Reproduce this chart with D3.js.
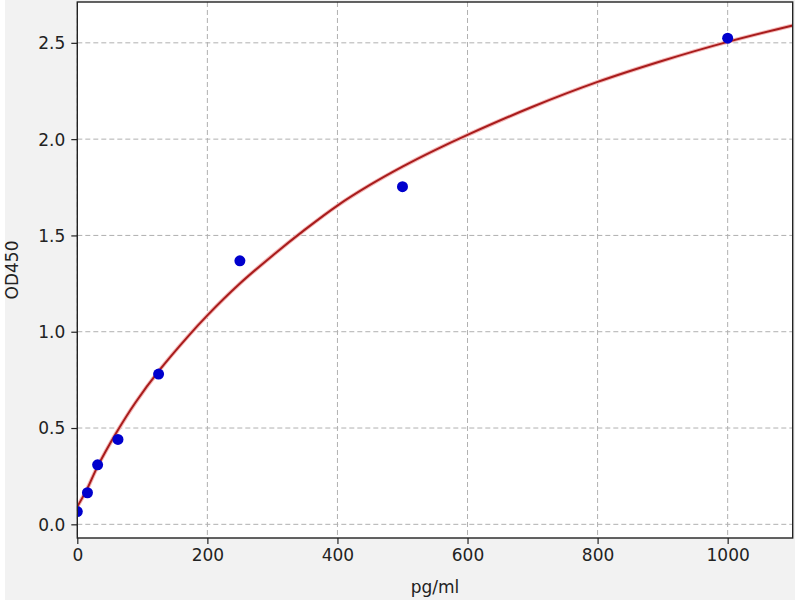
<!DOCTYPE html>
<html>
<head>
<meta charset="utf-8">
<script src="https://cdn.jsdelivr.net/npm/d3@7"></script>
<style>
  html, body { margin: 0; padding: 0; background: #fff; }
  svg text { font-family: "DejaVu Sans", sans-serif; fill: #222; }
</style>
</head>
<body>
<div id="container"></div>
<script>
// standard concentrations (pg/ml) and measured OD450
const conc = [0, 15.6, 31.25, 62.5, 125, 250, 500, 1000];
const od = [0.066, 0.164, 0.309, 0.441, 0.78, 1.368, 1.753, 2.524];

// fitted curve
const fitX = [0, 15, 30, 60, 90, 125, 170, 200, 250, 300, 350, 400, 450, 500, 550, 600, 700, 800, 900, 1000, 1100];
const fitY = [0.092, 0.183, 0.292, 0.475, 0.635, 0.795, 0.975, 1.085, 1.25, 1.395, 1.53, 1.655, 1.762, 1.857, 1.943, 2.022, 2.168, 2.297, 2.407, 2.505, 2.59];

const xTicks = [0, 200, 400, 600, 800, 1000];
const yTicks = [0.0, 0.5, 1.0, 1.5, 2.0, 2.5];

const W = 800, H = 600;
const pLeft = 77.3, pRight = 792.7, pTop = 2, pBottom = 538;

const svg = d3.select('#container').append('svg')
    .attr('width', W)
    .attr('height', H)
    .style('display', 'block');

svg.append('rect').attr('width', W).attr('height', H).attr('fill', '#fff');
svg.append('rect')
    .attr('x', 5).attr('y', 0)
    .attr('width', 790).attr('height', H)
    .attr('fill', '#f2f2f2');

const x = d3.scaleLinear().domain([0, 1100]).range([pLeft, pRight]);
const y = d3.scaleLinear().domain([-0.071, 2.712]).range([pBottom, pTop]);

svg.append('rect')
    .attr('x', pLeft).attr('y', pTop)
    .attr('width', pRight - pLeft).attr('height', pBottom - pTop)
    .attr('fill', '#fff');

svg.append('clipPath').attr('id', 'plot')
  .append('rect')
    .attr('x', pLeft).attr('y', pTop)
    .attr('width', pRight - pLeft).attr('height', pBottom - pTop);

// grid
const grid = svg.append('g')
    .attr('stroke', '#b0b0b0')
    .attr('stroke-width', 1)
    .attr('stroke-dasharray', '5,3');
grid.selectAll('.gx').data(xTicks).join('line')
    .attr('x1', d => x(d)).attr('x2', d => x(d))
    .attr('y1', pTop).attr('y2', pBottom);
grid.selectAll('.gy').data(yTicks).join('line')
    .attr('y1', d => y(d)).attr('y2', d => y(d))
    .attr('x1', pLeft).attr('x2', pRight);

// axes
const xAxis = svg.append('g')
    .attr('transform', `translate(0,${pBottom})`)
    .call(d3.axisBottom(x).tickValues(xTicks).tickFormat(d3.format('d')).tickSize(6).tickPadding(5));
const yAxis = svg.append('g')
    .attr('transform', `translate(${pLeft},0)`)
    .call(d3.axisLeft(y).tickValues(yTicks).tickFormat(d3.format('.1f')).tickSize(6).tickPadding(6));
[xAxis, yAxis].forEach(a => {
    a.select('.domain').remove();
    a.selectAll('line').attr('stroke', '#222').attr('stroke-width', 1.2);
    a.selectAll('text').style('font-size', '17px').attr('fill', '#222');
});
yAxis.selectAll('text').attr('dy', '0.35em');

// fitted curve
const line = d3.line()
    .x((d, i) => x(fitX[i]))
    .y(d => y(d))
    .curve(d3.curveCatmullRom.alpha(0.5));
svg.append('path')
    .datum(fitY)
    .attr('clip-path', 'url(#plot)')
    .attr('fill', 'none')
    .attr('stroke', '#f4b8b8')
    .attr('stroke-width', 4)
    .attr('d', line);
svg.append('path')
    .datum(fitY)
    .attr('clip-path', 'url(#plot)')
    .attr('fill', 'none')
    .attr('stroke', '#a81c1c')
    .attr('stroke-width', 2)
    .attr('d', line);

// standards
svg.append('g').attr('clip-path', 'url(#plot)')
  .selectAll('circle').data(conc).join('circle')
    .attr('cx', d => x(d))
    .attr('cy', (d, i) => y(od[i]))
    .attr('r', 5.5)
    .attr('fill', '#0000cd');

// frame
svg.append('rect')
    .attr('x', pLeft).attr('y', pTop)
    .attr('width', pRight - pLeft).attr('height', pBottom - pTop)
    .attr('fill', 'none')
    .attr('stroke', '#222')
    .attr('stroke-width', 1.4);

// labels
svg.append('text')
    .text('pg/ml')
    .attr('x', (pLeft + pRight) / 2)
    .attr('y', 593)
    .attr('text-anchor', 'middle')
    .style('font-size', '17px');

svg.append('text')
    .text('OD450')
    .attr('transform', `translate(18 ${(pTop + pBottom) / 2}) rotate(-90)`)
    .attr('text-anchor', 'middle')
    .style('font-size', '17px');
</script>
</body>
</html>
